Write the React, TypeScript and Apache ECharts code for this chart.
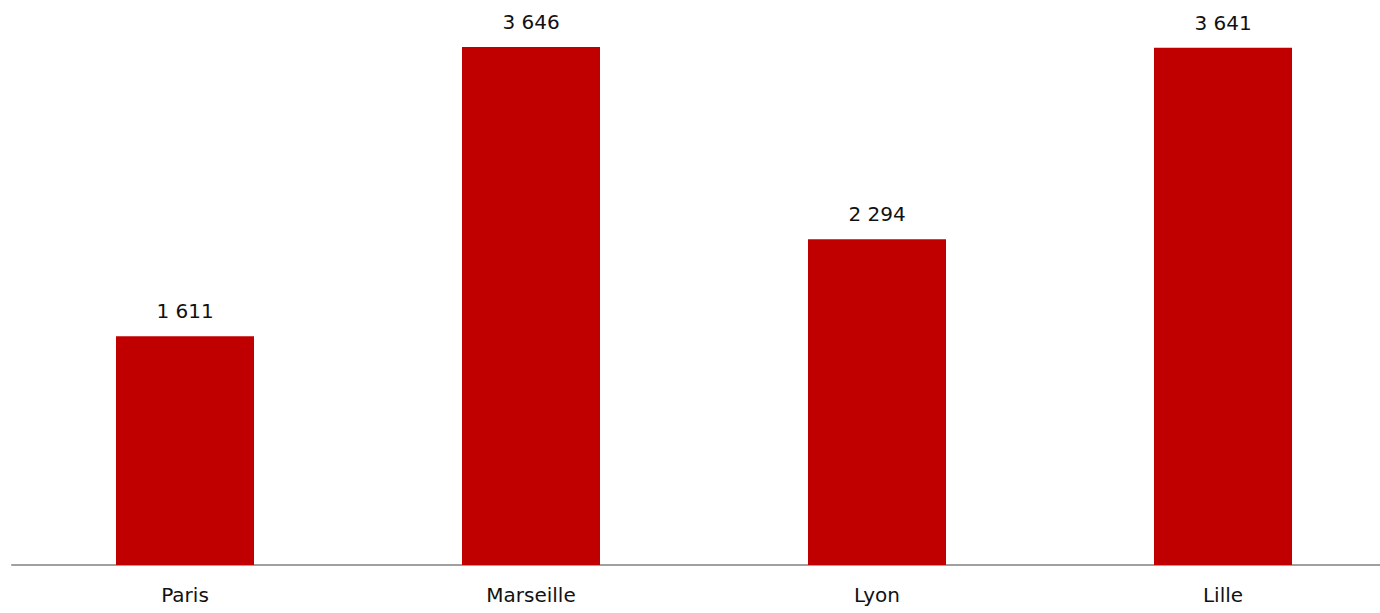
import React, { useEffect, useRef } from "react";
import * as echarts from "echarts";

const categories = ["Paris", "Marseille", "Lyon", "Lille"];
const values = [1611, 3646, 2294, 3641];

const fmt = (v: number) => String(v).replace(/\B(?=(\d{3})+(?!\d))/g, " ");

export default function App() {
  const ref = useRef<HTMLDivElement>(null);
  useEffect(() => {
    const chart = echarts.init(ref.current!, null, { renderer: "svg" });
    chart.setOption({
      animation: false,
      grid: { left: 12, right: 0, top: 39.4, bottom: 48, containLabel: false },
      xAxis: {
        type: "category",
        data: categories,
        axisLine: { lineStyle: { color: "#a0a0a0", width: 2 } },
        axisTick: { show: false },
        axisLabel: { color: "#111", fontSize: 20, fontFamily: "DejaVu Sans", margin: 20 },
      },
      yAxis: { type: "value", min: 0, max: 3700, show: false, splitLine: { show: false } },
      series: [
        {
          type: "bar",
          data: values,
          barWidth: 138,
          itemStyle: { color: "#c00000" },
          label: {
            show: true,
            position: "top",
            distance: 15,
            color: "#111",
            fontSize: 20,
            fontFamily: "DejaVu Sans",
            formatter: (p: any) => fmt(p.value),
          },
        },
      ],
    });
    return () => chart.dispose();
  }, []);
  return (
    <div style={{ position: "fixed", left: 0, top: 0, width: 1380, height: 613, overflow: "hidden", background: "#fff" }}>
      <div ref={ref} style={{ width: 1396, height: 613 }} />
    </div>
  );
}
